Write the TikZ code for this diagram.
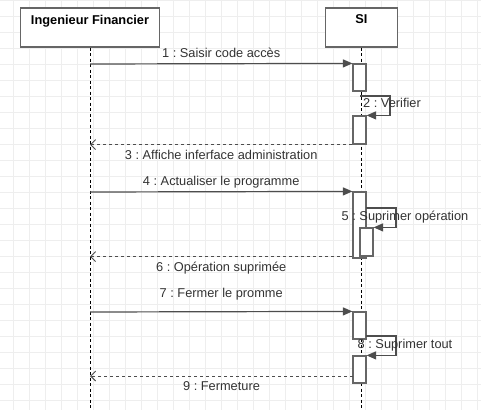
\documentclass[tikz,border=0pt]{standalone}
\usepackage{fontspec}
\setmainfont{Liberation Sans}
\usepackage{tikz}
\usepackage{xcolor}
\usetikzlibrary{arrows.meta,positioning}
\frenchspacing

\definecolor{linegray}{HTML}{4D4D4D}
\definecolor{boxgray}{HTML}{666666}
\definecolor{textgray}{HTML}{333333}
\definecolor{gridgray}{HTML}{EEEEEE}

\begin{document}
\begin{tikzpicture}[x=1pt,y=-1pt,>=stealth]

\tikzstyle{actor}=[
  rectangle,
  draw=boxgray,
  line width=1.3pt,
  fill=white,
  minimum width=139pt,
  minimum height=39pt,
  inner sep=0pt
]
\tikzstyle{hdr}=[anchor=north, inner sep=0pt, text=black, font=\fontsize{12.8}{15}\selectfont\bfseries]
\tikzstyle{act}=[rectangle, draw=boxgray, line width=1.2pt, fill=white, minimum width=13pt, inner sep=0pt]
\tikzstyle{lbl}=[inner sep=0pt, anchor=base, text=textgray, font=\fontsize{12.8}{15}\selectfont]
\tikzstyle{life}=[draw=black, line width=0.8pt, dash pattern=on 3pt off 2.5pt]
\tikzstyle{call}=[draw=linegray, line width=1.2pt, -{Triangle[length=9.5pt,width=8pt]}]
\tikzstyle{ret}=[draw=linegray, line width=0.9pt, dash pattern=on 3pt off 3pt, -{Straight Barb[length=5pt,width=10pt]}]

\useasboundingbox[fill=white] (0,0) rectangle (481,410);

% background grid
\foreach \gx in {13,29,...,477}
  \draw[gridgray, line width=0.6pt] (\gx,0) -- (\gx,410);
\foreach \gy in {0,16,...,400}
  \draw[gridgray, line width=0.6pt] (0,\gy) -- (481,\gy);

% Actors
\node[actor] (ing) at (90,27.5) {};
\node[hdr] (ingname) at ([yshift=-7.5pt]ing.north) {Ingenieur Financier};

\node[actor, minimum width=72pt, right=164.5pt of ing] (si) {};
\node[hdr] (siname) at ([yshift=-7.5pt]si.north) {SI};

% Lifelines
\coordinate (ingend) at (ing |- 0,410);
\coordinate (siend) at (si |- 0,410);
\draw[life] (ing.south) -- (ingend);
\draw[life] (si.south) -- (siend);

% Activations
\node[act, minimum height=27pt] (act1) at (359.5,77.5) {};
\node[act, minimum height=28pt] (act2) at (359.5,130) {};
\node[act, minimum height=66pt] (act3) at (359.5,225) {};
\node[act, minimum height=28pt] (act3b) at (366.5,242) {};
\node[act, minimum height=27pt] (act4) at (359.5,325.5) {};
\node[act, minimum height=27pt] (act5) at (359.5,369.5) {};

% Calls
\coordinate (m1) at (90,64);
\draw[call] (m1) -- (act1.north west)
  node[lbl, midway, yshift=6.5pt] (t1) {1 : Saisir code accès};

\coordinate (s2) at (360,96);
\draw[call] (s2) -- ++(30,0) |- (act2.north east);
\node[lbl] (t2) at (392,107.5) {2 : Verifier};

\draw[ret] (act2.south west) -- (ing |- act2.south west)
  node[lbl, midway, yshift=-14.5pt] (t3) {3 : Affiche inferface administration};

\coordinate (m4) at (90,192);
\draw[call] (m4) -- (act3.north west)
  node[lbl, midway, yshift=6.5pt] (t4) {4 : Actualiser le programme};

\coordinate (s5) at (366,208);
\draw[call] (s5) -- ++(30,0) |- (act3b.north east);
\node[lbl] (t5) at (405,220.5) {5 : Suprimer opération};

\coordinate (r6) at (act3.west |- act3b.south);
\draw[ret] (r6) -- (ing |- r6)
  node[lbl, midway, yshift=-14.5pt] (t6) {6 : Opération suprimée};

\coordinate (m7) at (90,312);
\draw[call] (m7) -- (act4.north west)
  node[lbl, midway, yshift=14.5pt] (t7) {7 : Fermer le promme};

\coordinate (s8) at (366,336);
\draw[call] (s8) -- ++(30,0) |- (act5.north east);
\node[lbl] (t8) at (405,348.5) {8 : Suprimer tout};

\coordinate (r9) at (353,376);
\draw[ret] (r9) -- (ing |- r9)
  node[lbl, midway, yshift=-14.5pt] (t9) {9 : Fermeture};

\end{tikzpicture}
\end{document}
